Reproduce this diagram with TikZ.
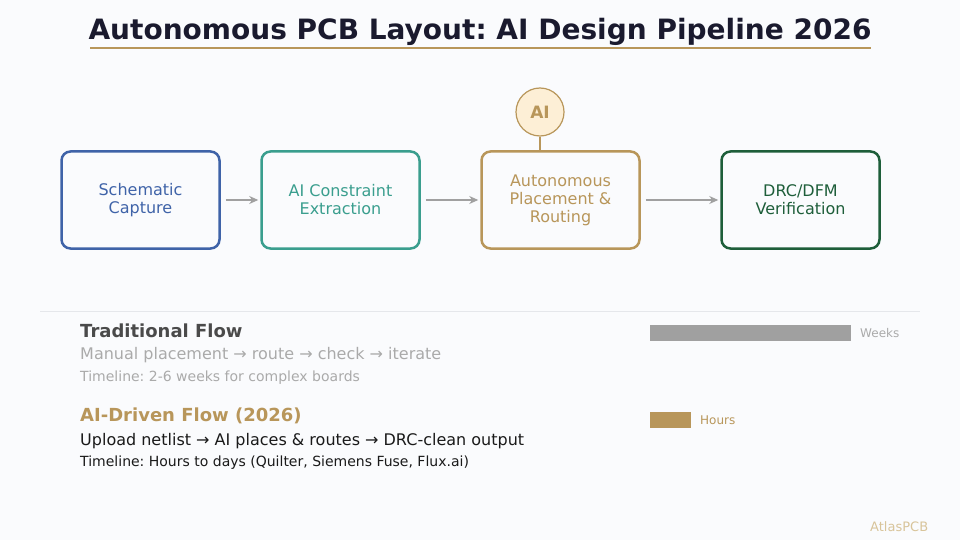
\documentclass[tikz,border=0pt]{standalone}
\usepackage{fontspec}
\setmainfont{DejaVu Sans}
\usepackage{xcolor}
\definecolor{bgpage}{RGB}{250,251,253}
\definecolor{titleink}{RGB}{26,26,46}
\definecolor{gold}{RGB}{184,150,90}
\definecolor{paleorange}{RGB}{253,239,214}
\definecolor{blueline}{RGB}{63,99,168}
\definecolor{tealline}{RGB}{58,158,142}
\definecolor{greenline}{RGB}{30,94,58}
\definecolor{darkgray}{RGB}{74,74,74}
\definecolor{lightgray}{RGB}{170,170,170}
\definecolor{bargray}{RGB}{160,160,160}
\definecolor{rulegray}{RGB}{229,231,235}
\definecolor{textink}{RGB}{26,26,26}
\definecolor{palegold}{RGB}{216,196,154}
\usepackage{tikz}
\usetikzlibrary{arrows.meta, positioning}
\frenchspacing

\begin{document}
\begin{tikzpicture}[
        x=1pt, y=-1pt,
        stage/.style={rectangle, rounded corners=9pt, draw=#1, line width=2.5pt, fill=bgpage, minimum width=158pt, minimum height=97pt, align=center, text=#1, font=\fontsize{16}{18}\selectfont},
        arrow/.style={-{Stealth[length=9pt,width=8pt]}, line width=1.6pt, color=bargray},
        label/.style={anchor=base west, inner sep=0pt}
    ]
        \useasboundingbox (0,0) rectangle (960,540);
        \fill[bgpage] (0,0) rectangle (960,540);

        % title
        \node[font=\bfseries\fontsize{28}{32}\selectfont, text=titleink, anchor=base, inner sep=0pt] (title) at (480,40) {Autonomous PCB Layout: AI Design Pipeline 2026};
        \draw[gold, line width=2pt] (90,48) -- (871,48);

        % pipeline
        \node[stage=blueline] (schematic) at (140.5,200) {Schematic\\Capture};
        \node[stage=tealline] (constraint) at (340.5,200) {AI Constraint\\Extraction};
        \node[stage=gold] (routing) at (560.5,200) {Autonomous\\Placement \&\\Routing};
        \node[stage=greenline] (verify) at (800.5,200) {DRC/DFM\\Verification};

        \node[circle, draw=gold, line width=1.2pt, fill=paleorange, minimum size=48pt, text=gold, font=\bfseries\fontsize{17}{20}\selectfont] (ai) at (540,112) {AI};
        \draw[gold, line width=1.2pt] (ai.south) -- (ai.south |- routing.north);

        \draw[arrow, shorten <=5pt, shorten >=2pt] (schematic) -- (constraint);
        \draw[arrow, shorten <=5pt, shorten >=2pt] (constraint) -- (routing);
        \draw[arrow, shorten <=5pt, shorten >=2pt] (routing) -- (verify);

        \draw[rulegray, line width=1pt] (40,311) -- (920,311);

        % comparison
        \node[label, text=darkgray, font=\bfseries\fontsize{18}{20}\selectfont] (tradhead) at (80,337) {Traditional Flow};
        \node[label, text=lightgray, font=\fontsize{16}{18}\selectfont] (tradsteps) at (80,359.5) {Manual placement → route → check → iterate};
        \node[label, text=lightgray, font=\fontsize{14}{16}\selectfont] (tradtime) at (80,381) {Timeline: 2-6 weeks for complex boards};

        \node[label, text=gold, font=\bfseries\fontsize{18}{20}\selectfont] (aihead) at (80,421) {AI-Driven Flow (2026)};
        \node[label, text=textink, font=\fontsize{16}{18}\selectfont] (aisteps) at (80,445) {Upload netlist → AI places \& routes → DRC-clean output};
        \node[label, text=textink, font=\fontsize{14}{16}\selectfont] (aitime) at (80,466) {Timeline: Hours to days (Quilter, Siemens Fuse, Flux.ai)};

        \fill[bargray] (650,325) rectangle (851,341);
        \node[label, text=lightgray, font=\fontsize{12}{14}\selectfont] (weeks) at (860,337) {Weeks};
        \fill[gold] (650,412) rectangle (691,428);
        \node[label, text=gold, font=\fontsize{12}{14}\selectfont] (hours) at (700,424) {Hours};

        \node[label, text=palegold, font=\fontsize{13}{16}\selectfont] (brand) at (870,531) {AtlasPCB};
    \end{tikzpicture}
\end{document}
